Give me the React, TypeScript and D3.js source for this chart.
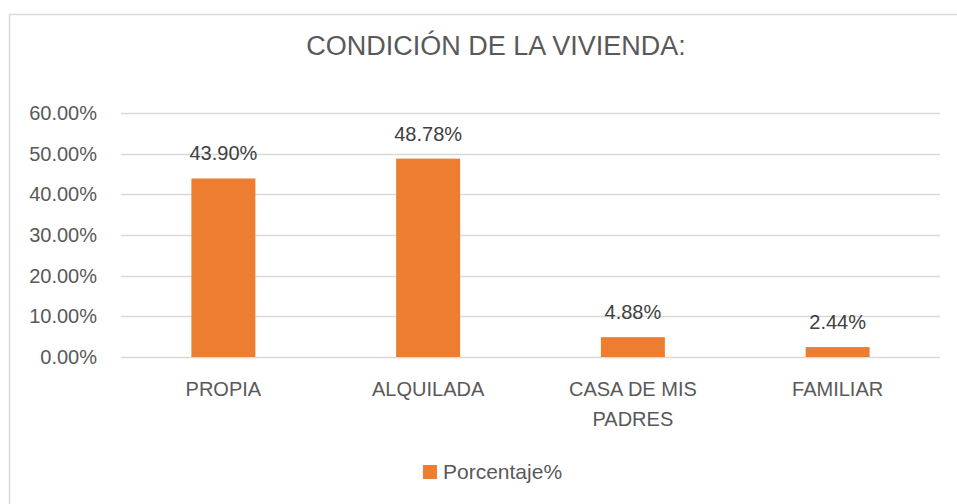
import { useRef, useEffect } from 'react';
import * as d3 from 'd3';

const categories = ['PROPIA', 'ALQUILADA', 'CASA DE MIS PADRES', 'FAMILIAR'];
const categoryLines = [['PROPIA'], ['ALQUILADA'], ['CASA DE MIS', 'PADRES'], ['FAMILIAR']];
const values = [0.439, 0.4878, 0.0488, 0.0244];
const yTicks = [0, 0.1, 0.2, 0.3, 0.4, 0.5, 0.6];
const seriesName = 'Porcentaje%';
const title = 'CONDICIÓN DE LA VIVIENDA:';

export default function App() {
  const svgRef = useRef<SVGSVGElement>(null);
  const width = 957;
  const height = 504;

  useEffect(() => {
    const svg = d3.select(svgRef.current);
    svg.selectAll('*').remove();
    const font = '"Liberation Sans", Arial, sans-serif';
    const textColor = '#595959';

    // chart frame
    svg.append('rect')
      .attr('x', 9.5).attr('y', 14.5)
      .attr('width', 960).attr('height', 500)
      .attr('fill', '#fff')
      .attr('stroke', '#d9d9d9')
      .attr('stroke-width', 1.5);

    svg.append('text')
      .attr('x', 496).attr('y', 55)
      .attr('text-anchor', 'middle')
      .attr('font-family', font)
      .attr('font-size', 27)
      .attr('fill', textColor)
      .text(title);

    const x = d3.scaleBand()
      .domain(categories)
      .range([121, 940])
      .paddingInner(0.6875)
      .paddingOuter(0.34375);

    const y = d3.scaleLinear()
      .domain([0, 0.6])
      .range([357, 113]);

    // gridlines
    svg.append('g')
      .selectAll('line')
      .data(yTicks)
      .enter()
      .append('line')
      .attr('x1', 121).attr('x2', 940)
      .attr('y1', d => Math.round(y(d)) + 0.5)
      .attr('y2', d => Math.round(y(d)) + 0.5)
      .attr('stroke', '#d9d9d9')
      .attr('stroke-width', 1.5);

    // y tick labels
    svg.append('g')
      .selectAll('text')
      .data(yTicks)
      .enter()
      .append('text')
      .attr('x', 97)
      .attr('y', d => y(d) + 7)
      .attr('text-anchor', 'end')
      .attr('font-family', font)
      .attr('font-size', 20)
      .attr('fill', textColor)
      .text(d => d3.format('.2%')(d));

    // bars
    svg.append('g')
      .selectAll('rect')
      .data(values)
      .enter()
      .append('rect')
      .attr('x', (d, i) => x(categories[i])!)
      .attr('y', d => y(d))
      .attr('width', x.bandwidth())
      .attr('height', d => y(0) - y(d))
      .attr('fill', '#ed7d31');

    // value labels
    svg.append('g')
      .selectAll('text')
      .data(values)
      .enter()
      .append('text')
      .attr('x', (d, i) => x(categories[i])! + x.bandwidth() / 2)
      .attr('y', d => y(d) - 18)
      .attr('text-anchor', 'middle')
      .attr('font-family', font)
      .attr('font-size', 20)
      .attr('fill', '#404040')
      .text(d => d3.format('.2%')(d));

    // category labels
    const cat = svg.append('g')
      .selectAll('text')
      .data(categoryLines)
      .enter()
      .append('text')
      .attr('text-anchor', 'middle')
      .attr('font-family', font)
      .attr('font-size', 20)
      .attr('fill', textColor);
    cat.each(function (lines, i) {
      const t = d3.select(this);
      const cx = x(categories[i])! + x.bandwidth() / 2;
      lines.forEach((l, j) => {
        t.append('tspan').attr('x', cx).attr('y', 396 + j * 30).text(l);
      });
    });

    // legend
    svg.append('rect')
      .attr('x', 423).attr('y', 465)
      .attr('width', 14).attr('height', 14)
      .attr('fill', '#ed7d31');
    svg.append('text')
      .attr('x', 443).attr('y', 479)
      .attr('font-family', font)
      .attr('font-size', 21)
      .attr('fill', textColor)
      .text(seriesName);
  }, []);

  return (
    <svg ref={svgRef} width={width} height={height}
      style={{ position: 'absolute', left: 0, top: 0, display: 'block' }} />
  );
}
